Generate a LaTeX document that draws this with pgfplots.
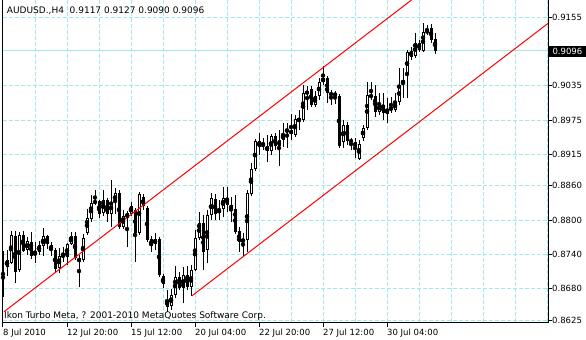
\documentclass[border=0pt]{standalone}
\usepackage{pgfplots}
\pgfplotsset{compat=1.18}
\usepackage{pgfplotstable}
\usepackage{fontspec}
\setmainfont{DejaVu Sans}
\definecolor{gridc}{RGB}{165,232,232}
\definecolor{mtred}{RGB}{255,0,0}

\pgfplotstableread{
i o h l c
0 0.874575 0.874925 0.86495 0.866525
1 0.871775 0.87475 0.8702 0.873
2 0.872475 0.878075 0.8723 0.877375
3 0.8772 0.878075 0.868975 0.8709
4 0.87125 0.8779 0.8709 0.877375
5 0.877375 0.878075 0.8744 0.874575
6 0.87475 0.877025 0.873875 0.876325
7 0.87615 0.8779 0.873175 0.8737
8 0.873875 0.87615 0.872475 0.8744
9 0.8744 0.876325 0.873875 0.875625
10 0.87545 0.8786 0.8737 0.8772
11 0.8772 0.877375 0.874925 0.8758
12 0.875625 0.87615 0.8737 0.87475
13 0.87475 0.8751 0.8709 0.871425
14 0.8716 0.8751 0.870725 0.8737
15 0.8736125 0.875275 0.87265 0.873875
16 0.873525 0.875975 0.872125 0.8758
17 0.8758 0.8779 0.875625 0.8772
18 0.8772 0.8779 0.873 0.87335
19 0.87335 0.873875 0.868275 0.87265
20 0.873 0.87755 0.87265 0.87685
21 0.877725 0.881925 0.877375 0.88035
22 0.880175 0.884375 0.87965 0.882975
23 0.882975 0.88525 0.882625 0.883325
24 0.883325 0.8835 0.88035 0.88105
25 0.881225 0.88525 0.8807 0.8835
26 0.8835 0.88385 0.87965 0.88105
27 0.88105 0.887 0.878775 0.88315
28 0.88315 0.8856 0.88105 0.884725
29 0.884725 0.88525 0.878425 0.878775
30 0.878775 0.88175 0.878425 0.8807
31 0.881225 0.881575 0.875275 0.88035
32 0.88105 0.88315 0.8807 0.88245
33 0.88175 0.8821 0.87265 0.877725
34 0.877725 0.8849 0.877375 0.88455
35 0.884025 0.88455 0.88175 0.88245
36 0.8821 0.88245 0.87615 0.8765
37 0.876675 0.8772 0.8744 0.87545
38 0.8758 0.877725 0.87475 0.876675
39 0.876675 0.877025 0.870025 0.870375
40 0.8702 0.87055 0.8681 0.8688
41 0.866 0.86775 0.8639 0.864775
42 0.86495 0.867925 0.86425 0.866875
43 0.866875 0.87195 0.86635 0.870025
44 0.870025 0.8709 0.86775 0.8681
45 0.8681 0.871775 0.865475 0.870375
46 0.870375 0.87195 0.86775 0.868275
47 0.868275 0.872125 0.8667 0.87125
48 0.87125 0.87825 0.871075 0.87685
49 0.87685 0.8814 0.8765 0.879475
50 0.879475 0.880875 0.87125 0.8744
51 0.87475 0.88175 0.872475 0.880875
52 0.880875 0.884725 0.88 0.88385
53 0.883675 0.88455 0.88 0.88105
54 0.881225 0.8835 0.88 0.881925
55 0.881925 0.885775 0.880525 0.88385
56 0.88385 0.885775 0.8814 0.882625
57 0.882625 0.884025 0.87965 0.881925
58 0.881925 0.884375 0.87755 0.8779
59 0.878075 0.878775 0.8744 0.87615
60 0.87615 0.877725 0.8737 0.876675
61 0.8765 0.88525 0.8744 0.884725
62 0.88455 0.889975 0.8842 0.888925
63 0.888925 0.894175 0.888575 0.893825
64 0.893825 0.895225 0.891375 0.892775
65 0.8933 0.89435 0.89225 0.89295
66 0.89295 0.894875 0.89015 0.892075
67 0.892075 0.89505 0.891375 0.8947
68 0.8947 0.895225 0.89225 0.89295
69 0.894 0.89575 0.88945 0.89295
70 0.894 0.896975 0.892775 0.89505
71 0.8954 0.896975 0.8926 0.895925
72 0.89575 0.89855 0.894 0.89505
73 0.894875 0.898375 0.894525 0.897675
74 0.8975 0.89925 0.89575 0.8975875
75 0.8975 0.903625 0.89715 0.902225
76 0.902225 0.90345 0.89925 0.9024
77 0.902925 0.90345 0.899775 0.900125
78 0.900125 0.902575 0.899775 0.9017
79 0.9017 0.90485 0.901 0.90415
80 0.90415 0.90695 0.903625 0.90485
81 0.90485 0.9052 0.900475 0.902225
82 0.902225 0.90275 0.900125 0.901875
83 0.902225 0.902575 0.9003 0.9017
84 0.9017 0.90205 0.8926 0.89295
85 0.89365 0.8975 0.8926 0.896625
86 0.896625 0.89715 0.893125 0.893825
87 0.894 0.89435 0.89225 0.89365
88 0.89365 0.89435 0.89085 0.892775
89 0.890675 0.894 0.8905 0.8933
90 0.89435 0.896625 0.893825 0.8961
91 0.8961 0.90415 0.89575 0.901875
92 0.901875 0.90415 0.901 0.901525
93 0.9017 0.903625 0.898025 0.8989
94 0.8989 0.902225 0.898375 0.9003
95 0.900125 0.902225 0.8975 0.898725
96 0.89855 0.90135 0.896975 0.899425
97 0.89925 0.901525 0.898725 0.899775
98 0.89925 0.902225 0.8989 0.90065
99 0.90065 0.9066 0.900125 0.903625
100 0.9038 0.9066 0.90135 0.9045
101 0.905375 0.90975 0.90135 0.9094
102 0.909575 0.910275 0.908 0.908525
103 0.9087 0.912725 0.90835 0.910975
104 0.910975 0.9115 0.9094 0.90975
105 0.909575 0.914475 0.9094 0.9129
106 0.913075 0.914125 0.912375 0.9129
107 0.9136 0.9143 0.910975 0.9115
108 0.9117 0.9127 0.9090 0.9096
}\candles

\begin{document}
\fontsize{8.5bp}{10bp}\selectfont
\begin{tikzpicture}
\useasboundingbox (-2.5bp,-17.5bp) rectangle (583.5bp,322.5bp);
\begin{axis}[
  at={(0,0)}, anchor=south west,
  scale only axis, width=545.5bp, height=322.5bp,
  xmin=-0.125, xmax=136.25, ymin=0.8620625, ymax=0.9185,
  axis x line*=bottom, axis y line*=right,
  axis line style={black, line width=1bp, -},
  xtick={0,16,32,48,64,80,96},
  xticklabels={8 Jul 2010, 12 Jul 20:00, 15 Jul 12:00, 20 Jul 04:00, 22 Jul 20:00, 27 Jul 12:00, 30 Jul 04:00},
  minor xtick={8,24,40,56,72,88,104,112,120,128,136},
  ytick={0.8625,0.8680,0.8740,0.8800,0.8860,0.8915,0.8975,0.9035,0.9096,0.9155},
  yticklabels={0.8625,0.8680,0.8740,0.8800,0.8860,0.8915,0.8975,0.9035,,0.9155},
  grid=both,
  major grid style={gridc, dash pattern=on 4bp off 2bp, line width=1bp},
  minor grid style={gridc, dash pattern=on 4bp off 2bp, line width=1bp},
  tick align=outside,
  major tick length=4bp, minor tick length=0pt,
  tick style={black, line width=1bp},
  tick label style={font=\fontsize{8.5bp}{10bp}\selectfont},
  xticklabel style={anchor=north west, inner sep=0pt, yshift=-2bp},
  yticklabel style={anchor=west, inner sep=0pt},
  clip=true,
]
\addplot[gridc, line width=1bp, forget plot] coordinates {(-0.125,0.9096) (136.25,0.9096)};
% wicks
\addplot[only marks, mark=none, forget plot,
  error bars/.cd, y dir=both, y explicit, error mark=none,
  error bar style={black, line width=1bp, solid}]
  table[x=i, y expr={(\thisrow{h}+\thisrow{l})/2}, y error expr={(\thisrow{h}-\thisrow{l})/2}] {\candles};
% bodies
\addplot[only marks, mark=none, forget plot,
  error bars/.cd, y dir=both, y explicit, error mark=none,
  error bar style={black, line width=3bp, solid}]
  table[x=i, y expr={(\thisrow{o}+\thisrow{c})/2}, y error expr={max(abs(\thisrow{o}-\thisrow{c})/2,0.0000875)}] {\candles};
% white interiors
\addplot[only marks, mark=none, forget plot,
  error bars/.cd, y dir=both, y explicit, error mark=none,
  error bar style={white, line width=1bp, solid}]
  table[x expr={\thisrow{c}-\thisrow{o}>0.00036 ? \thisrow{i} : nan}, y expr={(\thisrow{o}+\thisrow{c})/2}, y error expr={(\thisrow{c}-\thisrow{o})/2-0.000175}] {\candles};
% channel
\addplot[mtred, line width=1bp, forget plot] coordinates {(0.25,0.86395) (102.125,0.9185)};
\addplot[mtred, line width=1bp, forget plot] coordinates {(47.175,0.8667) (136.25,0.914405)};
\end{axis}
\draw[black, line width=1bp] (0,0) -- (0,322.5bp);
\node[anchor=base west, inner sep=0pt, font=\fontsize{9bp}{10bp}\selectfont] at (4.2bp,308.5bp) {AUDUSD.,H4\ \ 0.9117 0.9127 0.9090 0.9096};
\node[anchor=base west, inner sep=0pt, font=\fontsize{9bp}{10bp}\selectfont] at (1.5bp,4.5bp) {Ikon Turbo Meta, ? 2001-2010 MetaQuotes Software Corp.};
\fill[black] (546.5bp,265.5bp) rectangle (583.5bp,276.5bp);
\node[anchor=west, inner sep=0pt, text=white] at (549.8bp,271.1bp) {0.9096};
\end{tikzpicture}
\end{document}
